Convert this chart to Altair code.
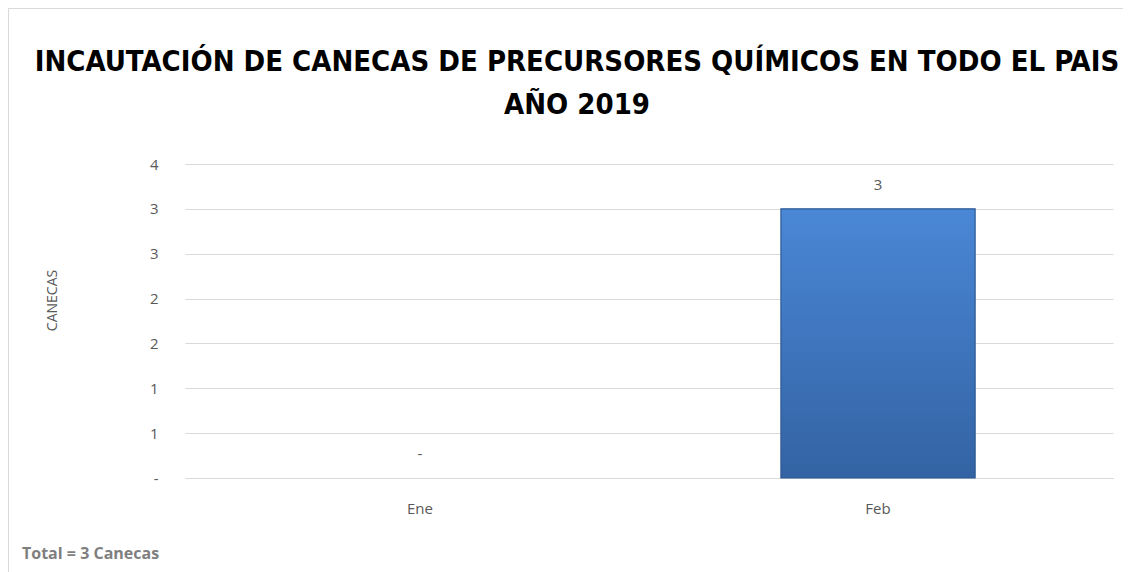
import altair as alt
import pandas as pd

months = ["Ene", "Feb"]
canecas = [0, 3]
y_ticks = [0, 0.5, 1, 1.5, 2, 2.5, 3, 3.5]
y_tick_labels = ["-", "1", "1", "2", "2", "3", "3", "4"]
title_lines = ["INCAUTACIÓN DE CANECAS DE PRECURSORES QUÍMICOS EN TODO EL PAIS", "AÑO 2019"]
y_title = "CANECAS"

df = pd.DataFrame({"mes": months, "canecas": canecas})
df["etiqueta"] = ["-" if v == 0 else str(v) for v in canecas]
total_df = pd.DataFrame({"txt": [f"Total = {sum(canecas)} Canecas"]})
title_df = pd.DataFrame({"linea": title_lines, "pos": [-102, -59]})

FONT = "Open Sans, sans-serif"
TFONT = "DejaVu Sans Condensed, Liberation Sans Narrow, Open Sans, sans-serif"
GRID = "#d9d9d9"
TXT = "#595959"

label_map = "{" + ",".join(f"'{t}':'{l}'" for t, l in zip(y_ticks, y_tick_labels)) + "}"

x_enc = alt.X("mes:N", sort=months, title=None,
              scale=alt.Scale(paddingInner=0.576, paddingOuter=0.301),
              axis=alt.Axis(labelAngle=0, labelFontSize=15, labelColor=TXT, labelFont=FONT,
                            ticks=False, domainColor=GRID, labelPadding=23))
y_enc = alt.Y("canecas:Q", title=y_title,
              scale=alt.Scale(domain=[0, 3.5], nice=False),
              axis=alt.Axis(values=y_ticks, labelExpr=f"{label_map}[datum.value+''] || datum.label",
                            labelFontSize=15, labelColor=TXT, labelFont=FONT, labelPadding=27,
                            ticks=False, domain=False, gridColor=GRID, grid=True,
                            titleFontSize=14, titleColor=TXT, titleFont=FONT, titleFontWeight="normal",
                            titleX=-133, titleY=136, titleAngle=270, titleAlign="center",
                            titleBaseline="middle"))

bars = alt.Chart(df).mark_bar(
    color=alt.LinearGradient(gradient="linear", x1=0, x2=0, y1=0, y2=1,
                             stops=[alt.GradientStop(color="#4a87d6", offset=0),
                                    alt.GradientStop(color="#3363a3", offset=1)]),
    stroke="#2d5a94", strokeWidth=1.2
).encode(x=x_enc, y=y_enc,
         strokeOpacity=alt.condition(alt.datum.canecas > 0, alt.value(1), alt.value(0)))

labels = alt.Chart(df).mark_text(dy=-24, fontSize=15, color=TXT, font=FONT).encode(
    x=alt.X("mes:N", sort=months), y="canecas:Q", text="etiqueta:N")

total = alt.Chart(total_df).mark_text(align="left", baseline="middle", fontSize=16,
                                      color="#7f7f7f", font=FONT, fontWeight="bold").encode(
    x=alt.value(-163), y=alt.value(390), text="txt:N")

titles = alt.Chart(title_df).mark_text(align="center", baseline="middle", fontSize=29,
                                       font=TFONT, fontWeight="bold", color="#000000").encode(
    x=alt.value(392), y=alt.Y("pos:Q", scale=None), text="linea:N")

border_top = alt.Chart(total_df).mark_rule(stroke=GRID, strokeWidth=1).encode(
    x=alt.value(-176.5), x2=alt.value(960), y=alt.value(-155.5))
border_left = alt.Chart(total_df).mark_rule(stroke=GRID, strokeWidth=1).encode(
    x=alt.value(-176.5), y=alt.value(-155.5), y2=alt.value(420))

chart = alt.layer(border_top, border_left, bars, labels, total, titles).properties(
    width=928, height=314,
    padding={"left": 177, "top": 156, "right": 10, "bottom": 94},
    autosize=alt.AutoSizeParams(type="none")
).configure_view(stroke=None)

chart.save("out.html", embed_options={"renderer": "svg", "actions": False})
